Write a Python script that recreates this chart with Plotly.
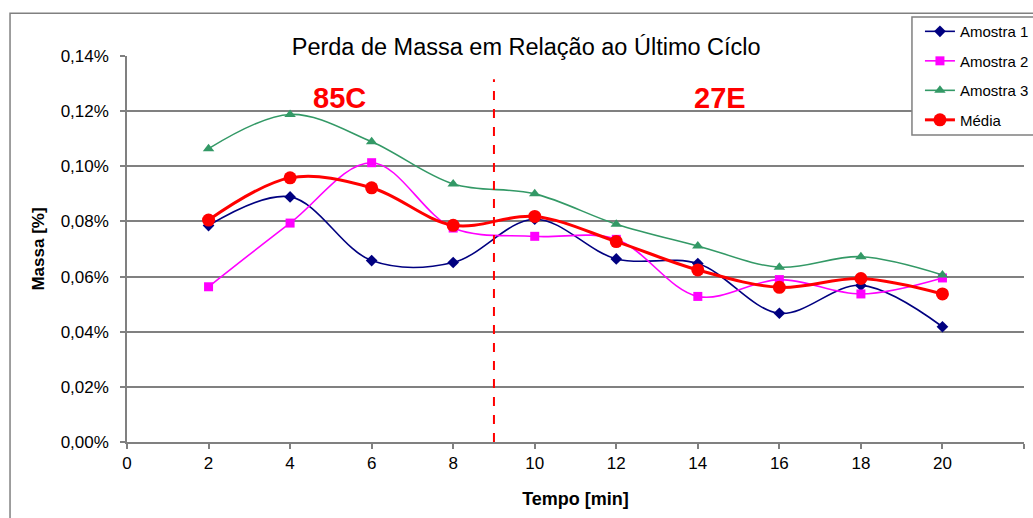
import plotly.graph_objects as go

tempo = [2, 4, 6, 8, 10, 12, 14, 16, 18, 20]
amostra1 = [0.0785, 0.0889, 0.0658, 0.0651, 0.0808, 0.0664, 0.0647, 0.0467, 0.0568, 0.0418]
amostra2 = [0.0563, 0.0794, 0.1013, 0.0776, 0.0746, 0.0735, 0.0528, 0.0589, 0.0537, 0.0595]
amostra3 = [0.1064, 0.1188, 0.1089, 0.0936, 0.0900, 0.0790, 0.0711, 0.0634, 0.0672, 0.0606]
media = [0.0805, 0.0958, 0.0922, 0.0786, 0.0818, 0.0727, 0.0624, 0.0561, 0.0593, 0.0537]

y_tickvals = [0.0, 0.02, 0.04, 0.06, 0.08, 0.10, 0.12, 0.14]
y_ticktext = ["0,00%", "0,02%", "0,04%", "0,06%", "0,08%", "0,10%", "0,12%", "0,14%"]
x_tickvals = list(range(0, 23, 2))

divider_x = 9
divider_top = 0.1316
region_labels = ["85C", "27E"]
region_label_x = [5.22, 14.55]
region_label_y = 0.1248

FONT = "Liberation Sans, Arial, sans-serif"
GRAY = "#808080"

series = [
    ("Amostra 1", amostra1, "#000080", "diamond", 9, 1.6),
    ("Amostra 2", amostra2, "#FF00FF", "square", 9, 1.6),
    ("Amostra 3", amostra3, "#339966", "triangle-up", 10, 1.6),
    ("Média", media, "#FF0000", "circle", 13, 3),
]

fig = go.Figure()
for i, (name, vals, color, sym, msize, lw) in enumerate(series):
    fig.add_trace(go.Scatter(
        x=tempo, y=vals, name=name, mode="lines+markers",
        line=dict(color=color, width=lw, shape="spline", smoothing=1),
        marker=dict(color=color, symbol=sym, size=msize),
        legendgroup=f"g{i}",
    ))

shapes = [
    dict(type="line", xref="x", yref="y", x0=divider_x, x1=divider_x, y0=0, y1=divider_top,
         line=dict(color="#FF0000", width=2, dash="dash")),
    # outer chart frame
    dict(type="rect", xref="paper", yref="paper", x0=-0.1304, x1=1.05, y0=-0.4, y1=1.111,
         line=dict(color=GRAY, width=1.5), fillcolor="rgba(0,0,0,0)", layer="above"),
    # legend box
    dict(type="rect", xref="paper", yref="paper", x0=0.8751, x1=1.05, y0=0.7953, y1=1.101,
         line=dict(color=GRAY, width=1.5), fillcolor="white", layer="above"),
]

annotations = [
    dict(x=region_label_x[k], y=region_label_y, xref="x", yref="y", text=region_labels[k],
         showarrow=False, font=dict(family=FONT, size=29, color="#FF0000", weight="bold"))
    for k in range(2)
]

fig.update_layout(
    width=1033, height=518,
    margin=dict(l=127, r=9, t=56, b=76, autoexpand=False),
    paper_bgcolor="white", plot_bgcolor="white",
    font=dict(family=FONT, color="#000000"),
    title=dict(text="Perda de Massa em Relação ao Último Cíclo",
               x=0.445, xref="paper", xanchor="center",
               y=1 - 47 / 518, yref="container", yanchor="middle",
               font=dict(family=FONT, size=23.5, color="#000000")),
    xaxis=dict(range=[0, 22], tickvals=x_tickvals, showgrid=False, zeroline=False,
               showline=True, linecolor=GRAY, linewidth=1.5,
               ticks="outside", ticklen=5, tickcolor=GRAY, tickwidth=1.5,
               tickfont=dict(family=FONT, size=17),
               title=dict(text="Tempo [min]", standoff=20,
                          font=dict(family=FONT, size=18, weight="bold"))),
    yaxis=dict(range=[0, 0.14], tickvals=y_tickvals, ticktext=y_ticktext,
               showgrid=True, gridcolor=GRAY, gridwidth=1.5, zeroline=False,
               showline=True, linecolor=GRAY, linewidth=1.5,
               ticks="outside", ticklen=5, tickcolor=GRAY, tickwidth=1.5,
               ticklabelstandoff=8,
               tickfont=dict(family=FONT, size=17),
               title=dict(text="Massa [%]", standoff=12,
                          font=dict(family=FONT, size=17, weight="bold"))),
    legend=dict(x=0.884, y=1.106, xanchor="left", yanchor="top",
                borderwidth=0, bgcolor="rgba(0,0,0,0)",
                font=dict(family=FONT, size=15), tracegroupgap=7,
                traceorder="grouped"),
    shapes=shapes, annotations=annotations,
)

fig.write_html("out.html")
